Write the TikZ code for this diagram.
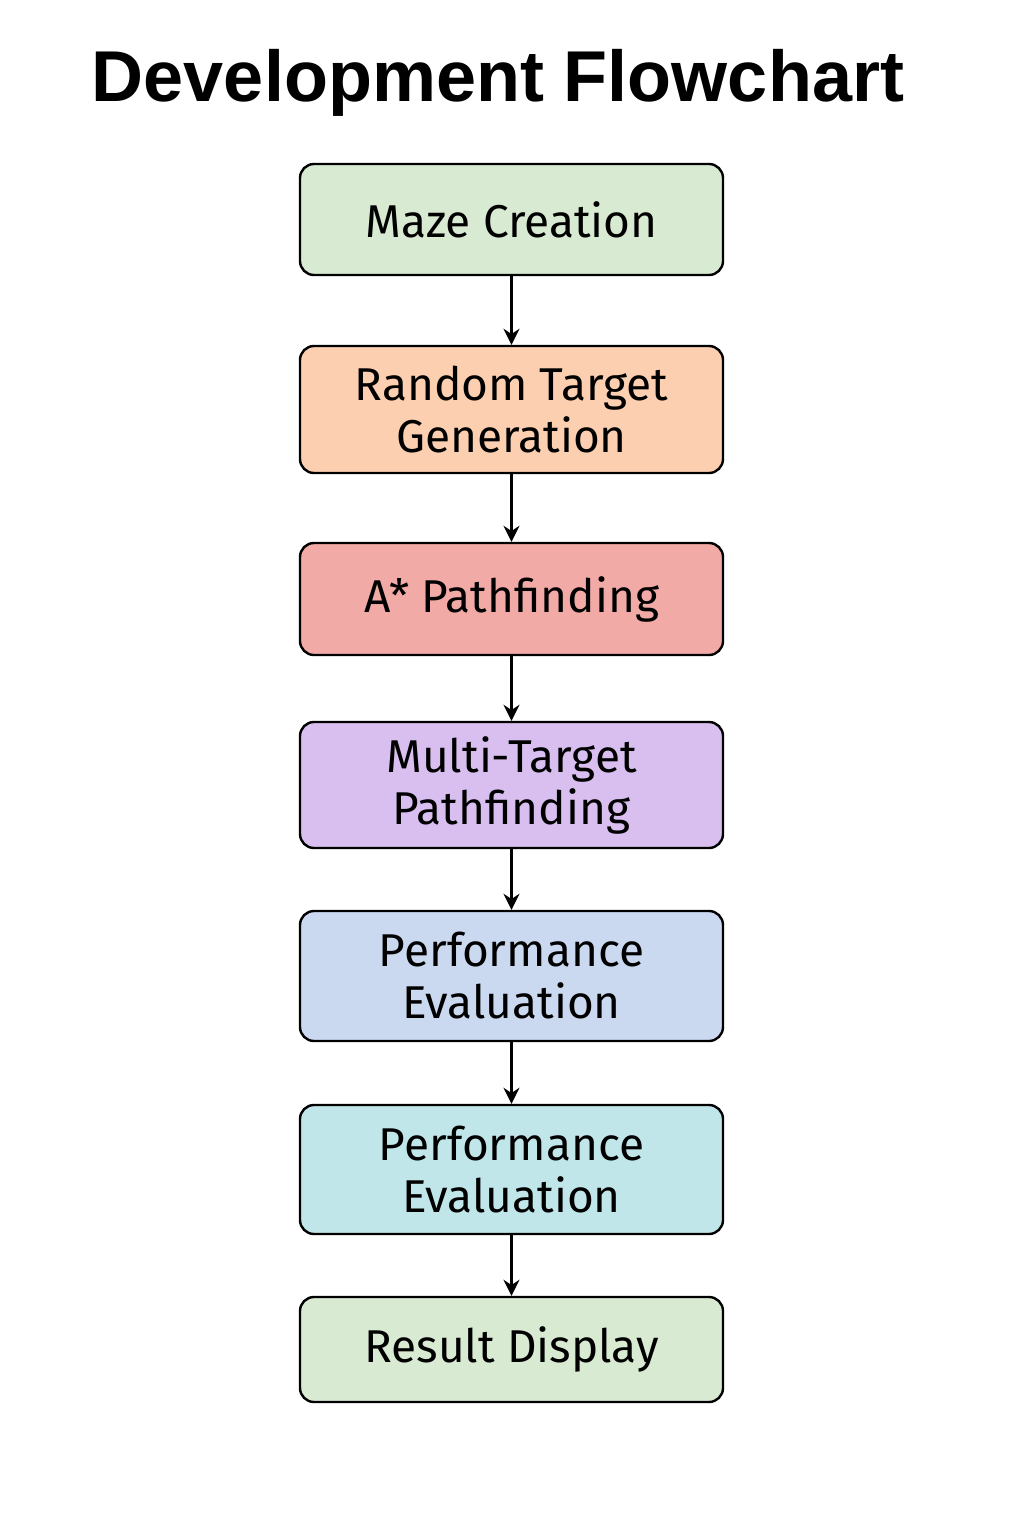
\documentclass[tikz,border=0pt]{standalone}
\usepackage{fontspec}
\setmainfont{Fira Sans}
\newfontfamily\titlefont{Liberation Sans}
\usetikzlibrary{arrows.meta}
\definecolor{cgreen}{HTML}{D9EAD3}
\definecolor{corange}{HTML}{FCCFB1}
\definecolor{cred}{HTML}{F2AAA7}
\definecolor{cpurple}{HTML}{D9BFF0}
\definecolor{cblue}{HTML}{CBD9F0}
\definecolor{ccyan}{HTML}{C0E6EA}
\tikzset{
  stepbox/.style={draw=black, line width=1.2pt, rounded corners=7pt,
    minimum width=211.5pt, align=center, inner sep=0pt,
    font=\fontsize{23}{26}\selectfont},
  flow/.style={-{Stealth[length=8pt,width=8pt]}, line width=1.1pt},
}
\begin{document}
\begin{tikzpicture}[x=1pt,y=-1pt]
\useasboundingbox (0,0) rectangle (512,768);
\node[anchor=base, font=\titlefont\bfseries\fontsize{36}{40}\selectfont] (title) at (249,51) {Development Flowchart};
\node[stepbox, fill=cgreen, minimum height=55.5pt] (b1) at (255.75,109.75) {Maze Creation};
\node[stepbox, fill=corange, minimum height=63.5pt] (b2) at (255.75,204.75) {Random Target\\Generation};
\node[stepbox, fill=cred, minimum height=56pt] (b3) at (255.75,299.5) {A* Pathfinding};
\node[stepbox, fill=cpurple, minimum height=63pt] (b4) at (255.75,392.5) {Multi-Target\\Pathfinding};
\node[stepbox, fill=cblue, minimum height=65pt] (b5) at (255.75,488) {Performance\\Evaluation};
\node[stepbox, fill=ccyan, minimum height=64.5pt] (b6) at (255.75,584.75) {Performance\\Evaluation};
\node[stepbox, fill=cgreen, minimum height=52.5pt] (b7) at (255.75,674.75) {Result Display};
\draw[flow] (b1) -- (b2);
\draw[flow] (b2) -- (b3);
\draw[flow] (b3) -- (b4);
\draw[flow] (b4) -- (b5);
\draw[flow] (b5) -- (b6);
\draw[flow] (b6) -- (b7);
\end{tikzpicture}
\end{document}
